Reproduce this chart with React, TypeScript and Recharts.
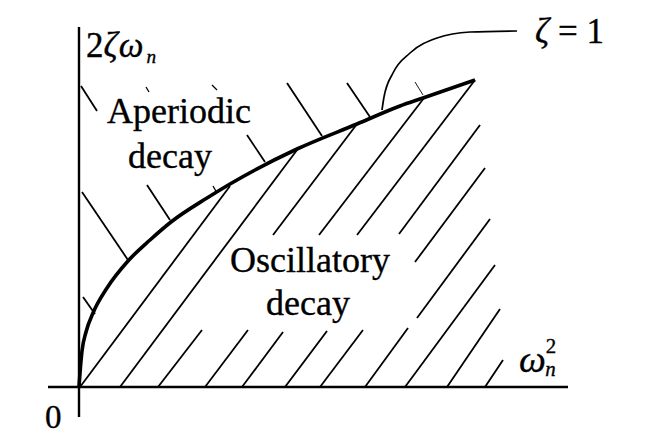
import React from 'react';
import { LineChart, Line, XAxis, YAxis, ReferenceLine, ReferenceDot } from 'recharts';

// Boundary curve zeta = 1 (x: omega_n^2, y: 2 zeta omega_n)
const curveX = [0, 1, 3, 7, 14, 28, 49, 71, 92, 128, 151, 218, 278, 321, 344, 396];
const curveY = [0, 14, 36, 55, 74, 99, 126, 147, 165, 189, 203, 238, 263, 281, 289, 307];

// Leader line pointing to the "zeta = 1" label
const leaderX = [303, 305, 314, 331, 358, 391, 438];
const leaderY = [277, 290, 314, 334, 349, 355, 356];

// Hatching of the oscillatory region: [x1, y1, x2, y2]
const oscHatch: number[][] = [
  [1, 0, 151, 201],
  [41, 0, 218, 237],
  [79, 0, 123, 57],
  [194, 152, 278, 263],
  [126, 0, 169, 57],
  [240, 152, 345, 289],
  [163, 0, 204, 55],
  [278, 152, 396, 307],
  [206, 0, 248, 56],
  [320, 153, 401, 262],
  [241, 0, 284, 57],
  [336, 125, 406, 219],
  [286, 0, 329, 59],
  [338, 69, 411, 168],
  [326, 0, 416, 122],
  [368, 0, 421, 78],
  [406, 0, 424, 27],
];

// Hatching ticks of the aperiodic region: [x1, y1, x2, y2, width]
const aperHatch: number[][] = [
  [2, 301, 18, 276, 1.8],
  [67, 300, 70, 295, 1.3],
  [133, 302, 138, 297, 1.3],
  [208, 304, 243, 251, 1.8],
  [268, 304, 291, 270, 1.8],
  [168, 252, 186, 225, 1.8],
  [68, 202, 91, 167, 1.8],
  [134, 201, 138, 194, 1.3],
  [3, 195, 49, 127, 1.8],
  [4, 90, 16, 73, 1.8],
  [336, 305, 344, 292, 0.9],
];

const xDomain = [-31, 489];
const yDomain = [-30, 360];
const xAxisSpan = [-31, 489];
const yAxisSpan = [-30, 360];

const curveData = curveX.map((x, i) => ({ x, y: curveY[i] }));
const leaderData = leaderX.map((x, i) => ({ x, y: leaderY[i] }));

const FONT = "'Liberation Serif', serif";

type Part = { t: string; italic?: boolean; dy?: number; small?: boolean; dx?: number; ls?: number };
type LabelDef = { x: number; y: number; anchor: string; size: number; parts: Part[] };

const labels: LabelDef[] = [
  { x: 7, y: 330, anchor: 'start', size: 35, parts: [{ t: '2' }, { t: 'ζω', italic: true, ls: 3 }, { t: 'n', italic: true, small: true, dy: 6 }] },
  { x: 100, y: 264, anchor: 'middle', size: 36, parts: [{ t: 'Aperiodic' }] },
  { x: 91, y: 219, anchor: 'middle', size: 36, parts: [{ t: 'decay' }] },
  { x: 231, y: 115, anchor: 'middle', size: 36, parts: [{ t: 'Oscillatory' }] },
  { x: 229, y: 72, anchor: 'middle', size: 36, parts: [{ t: 'decay' }] },
  { x: 456, y: 344, anchor: 'start', size: 35, parts: [{ t: 'ζ', italic: true }, { t: ' = 1' }] },
  { x: 440, y: 15, anchor: 'start', size: 38, parts: [{ t: 'ω', italic: true }, { t: '2', small: true, dy: -19 }, { t: 'n', italic: true, small: true, dy: 23, dx: -11 }] },
  { x: -34, y: -41, anchor: 'start', size: 33, parts: [{ t: '0' }] },
];

const makeShape = (l: LabelDef) => (p: any) => (
  <text x={p.cx} y={p.cy} textAnchor={l.anchor as any} fontFamily={FONT} fontSize={l.size} fill="#000" stroke="#000" strokeWidth={0.35}>
    {l.parts.map((pt, i) => (
      <tspan key={i} fontStyle={pt.italic ? 'italic' : 'normal'} fontSize={pt.small ? l.size * 0.55 : l.size} dy={pt.dy ?? 0} dx={pt.dx ?? 0} letterSpacing={pt.ls ?? 0}>
        {pt.t}
      </tspan>
    ))}
  </text>
);

export default function App() {
  return (
    <div style={{ width: 646, height: 427, background: '#fff' }}>
      <LineChart width={646} height={427} margin={{ top: 19, right: 86, bottom: 18, left: 40 }}>
        <XAxis dataKey="x" type="number" domain={xDomain} hide allowDataOverflow />
        <YAxis dataKey="y" type="number" domain={yDomain} hide allowDataOverflow />
        <ReferenceLine segment={[{ x: xAxisSpan[0], y: 0 }, { x: xAxisSpan[1], y: 0 }]} stroke="#000" strokeWidth={2.4} ifOverflow="visible" />
        <ReferenceLine segment={[{ x: 0, y: yAxisSpan[0] }, { x: 0, y: yAxisSpan[1] }]} stroke="#000" strokeWidth={2.4} ifOverflow="visible" />
        {oscHatch.map((s, i) => (
          <ReferenceLine key={'o' + i} segment={[{ x: s[0], y: s[1] }, { x: s[2], y: s[3] }]} stroke="#000" strokeWidth={1.8} ifOverflow="visible" />
        ))}
        {aperHatch.map((s, i) => (
          <ReferenceLine key={'a' + i} segment={[{ x: s[0], y: s[1] }, { x: s[2], y: s[3] }]} stroke="#000" strokeWidth={s[4]} ifOverflow="visible" />
        ))}
        <Line data={curveData} dataKey="y" type="monotone" stroke="#000" strokeWidth={3.6} dot={false} isAnimationActive={false} />
        <Line data={leaderData} dataKey="y" type="monotone" stroke="#000" strokeWidth={1.7} dot={false} isAnimationActive={false} />
        {labels.map((l, i) => (
          <ReferenceDot key={'l' + i} x={l.x} y={l.y} r={0} ifOverflow="visible" shape={makeShape(l)} />
        ))}
      </LineChart>
    </div>
  );
}
